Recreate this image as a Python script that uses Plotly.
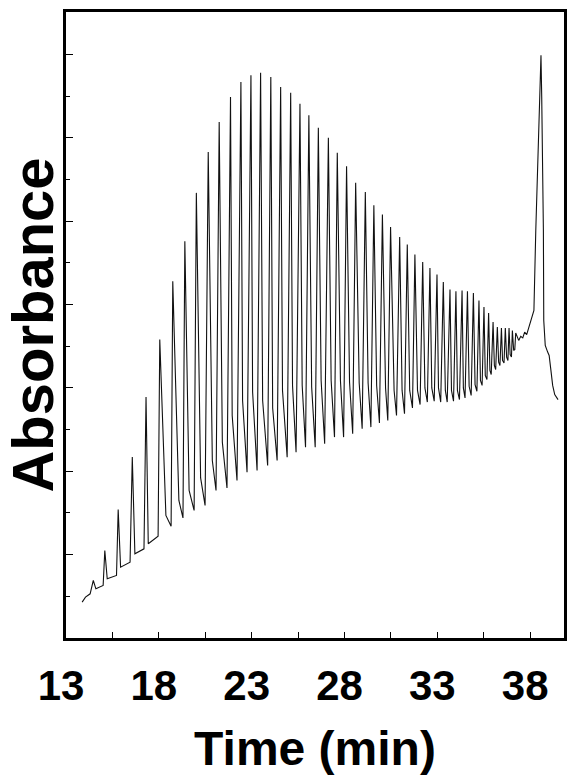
import plotly.graph_objects as go

# ---- data (time in min, absorbance in arbitrary units) ----
lead_time = [13.87, 14.05, 14.30]
lead_abs = [0.43, 0.49, 0.53]

peak_time = [14.47, 15.09, 15.81, 16.57, 17.31, 18.05, 18.75, 19.40, 20.02, 20.66,
             21.25, 21.86, 22.42, 22.96, 23.48, 24.03, 24.56, 25.10, 25.60, 26.08,
             26.59, 27.13, 27.61, 28.11, 28.60, 29.12, 29.58, 30.04, 30.48, 30.97,
             31.38, 31.79, 32.21, 32.60, 32.98, 33.32, 33.68, 34.00, 34.33, 34.62,
             34.94, 35.24, 35.51, 35.76, 36.00, 36.23, 36.45, 36.66, 36.86, 37.04,
             37.22]
peak_abs = [0.69, 1.05, 1.54, 2.17, 2.89, 3.58, 4.28, 4.76, 5.34, 5.83,
            6.19, 6.49, 6.67, 6.75, 6.78, 6.73, 6.61, 6.54, 6.41, 6.27,
            6.12, 6.00, 5.82, 5.66, 5.46, 5.35, 5.19, 5.08, 4.93, 4.81,
            4.72, 4.60, 4.51, 4.44, 4.36, 4.27, 4.18, 4.16, 4.17, 4.16,
            4.14, 4.05, 3.97, 3.90, 3.79, 3.73, 3.72, 3.72, 3.72, 3.69,
            3.66]

minor_time = [14.61, 15.22, 15.94, 16.71, 17.43, 18.38, 19.08, 19.63, 20.25, 20.88,
              21.42, 21.95, 22.51, 23.05, 23.59, 24.13, 24.66, 25.20, 25.72, 26.23,
              26.74, 27.28, 27.78, 28.27, 28.79, 29.27, 29.73, 30.21, 30.67, 31.10,
              31.51, 31.93, 32.33, 32.70, 33.06, 33.43, 33.76, 34.08, 34.40, 34.71,
              35.03, 35.32, 35.58, 35.83, 36.07, 36.30, 36.51, 36.73, 36.92, 37.11]
minor_abs = [0.59, 0.71, 0.85, 1.01, 1.13, 1.47, 1.65, 1.77, 1.92, 2.13,
             2.35, 2.67, 2.85, 2.95, 2.85, 2.76, 2.97, 3.03, 3.03, 3.01,
             3.09, 3.09, 3.09, 3.07, 3.06, 3.06, 3.03, 3.00, 2.97, 2.97,
             2.97, 2.97, 3.00, 3.00, 3.00, 2.97, 2.97, 2.97, 3.00, 3.02,
             3.04, 3.09, 3.15, 3.21, 3.27, 3.31, 3.33, 3.37, 3.40, 3.45]

foot_time = [15.00, 15.72, 16.45, 17.20, 17.96, 18.66, 19.30, 19.90, 20.49, 21.08,
             21.67, 22.21, 22.75, 23.29, 23.86, 24.37, 24.91, 25.39, 25.90, 26.42,
             26.93, 27.46, 27.95, 28.44, 28.95, 29.42, 29.88, 30.33, 30.80, 31.23,
             31.66, 32.07, 32.46, 32.83, 33.18, 33.53, 33.87, 34.19, 34.49, 34.82,
             35.13, 35.41, 35.67, 35.90, 36.14, 36.37, 36.59, 36.80, 36.99, 37.17]
foot_abs = [0.63, 0.75, 0.91, 1.07, 1.22, 1.34, 1.44, 1.53, 1.59, 1.77,
            1.80, 1.89, 1.99, 2.01, 2.07, 2.13, 2.17, 2.23, 2.29, 2.29,
            2.33, 2.41, 2.41, 2.45, 2.51, 2.53, 2.58, 2.61, 2.67, 2.69,
            2.76, 2.80, 2.83, 2.84, 2.83, 2.83, 2.84, 2.86, 2.88, 2.91,
            2.96, 3.03, 3.10, 3.16, 3.22, 3.27, 3.30, 3.33, 3.37, 3.46]

tail_time = [37.38, 37.49, 37.60, 37.70, 37.81, 37.92, 38.03, 38.20, 38.30, 38.39,
             38.53, 38.58, 38.62, 38.69, 38.71, 38.73, 38.81, 38.94, 39.02, 39.10,
             39.21, 39.32, 39.50]
tail_abs = [3.57, 3.62, 3.60, 3.67, 3.64, 3.72, 3.79, 3.93, 4.89, 5.53,
            6.49, 6.99, 6.49, 5.53, 4.89, 3.81, 3.51, 3.43, 3.39, 3.24,
            3.03, 2.92, 2.86]

x_tick_values = [13, 18, 23, 28, 33, 38]
x_tick_labels = ["13", "18", "23", "28", "33", "38"]

# ---- assemble the trace in time order ----
xs = list(lead_time)
ys = list(lead_abs)
for i in range(len(peak_time)):
    xs.append(peak_time[i])
    ys.append(peak_abs[i])
    if i < len(minor_time):
        xs += [minor_time[i], foot_time[i]]
        ys += [minor_abs[i], foot_abs[i]]
xs += tail_time
ys += tail_abs

FONT = "Liberation Sans, Arial, Helvetica, sans-serif"

fig = go.Figure()
fig.add_trace(go.Scatter(x=xs, y=ys, mode="lines",
                         line=dict(color="#111111", width=1.1),
                         hoverinfo="skip", showlegend=False))

fig.update_layout(
    width=569, height=778,
    margin=dict(l=66, r=5, t=12, b=140, autoexpand=False),
    paper_bgcolor="white", plot_bgcolor="white",
    showlegend=False,
)

fig.update_xaxes(
    range=[13, 39.82], automargin=False,
    showline=True, linewidth=3, linecolor="black", mirror=True,
    showgrid=False, zeroline=False,
    ticks="inside", ticklen=6, tickwidth=1, tickcolor="black",
    tickvals=x_tick_values, ticktext=x_tick_labels,
    minor=dict(tick0=15.5, dtick=5, ticks="inside", ticklen=6, tickwidth=1,
               tickcolor="black", showgrid=False),
    tickfont=dict(family=FONT, size=42, color="black", weight="bold"),
    ticklabelshift=-5, ticklabelstandoff=9,
    title=dict(text="Time (min)", standoff=23,
               font=dict(family=FONT, size=48, color="black", weight="bold")),
)

fig.update_yaxes(
    range=[0, 7.51], automargin=False,
    showline=True, linewidth=3, linecolor="black", mirror=True,
    showgrid=False, zeroline=False,
    ticks="inside", ticklen=7, tickwidth=1, tickcolor="black",
    tick0=0, dtick=1, showticklabels=False,
    minor=dict(tick0=0.5, dtick=1, ticks="inside", ticklen=4, tickwidth=1,
               tickcolor="black", showgrid=False),
    title=dict(text="Absorbance", standoff=10,
               font=dict(family=FONT, size=58, color="black", weight="bold")),
)

fig.write_html(
    "out.html",
    config={"displayModeBar": False, "staticPlot": True},
    post_script="document.body.style.margin='0';document.body.style.padding='0';"
                "document.documentElement.style.overflow='hidden';",
)
